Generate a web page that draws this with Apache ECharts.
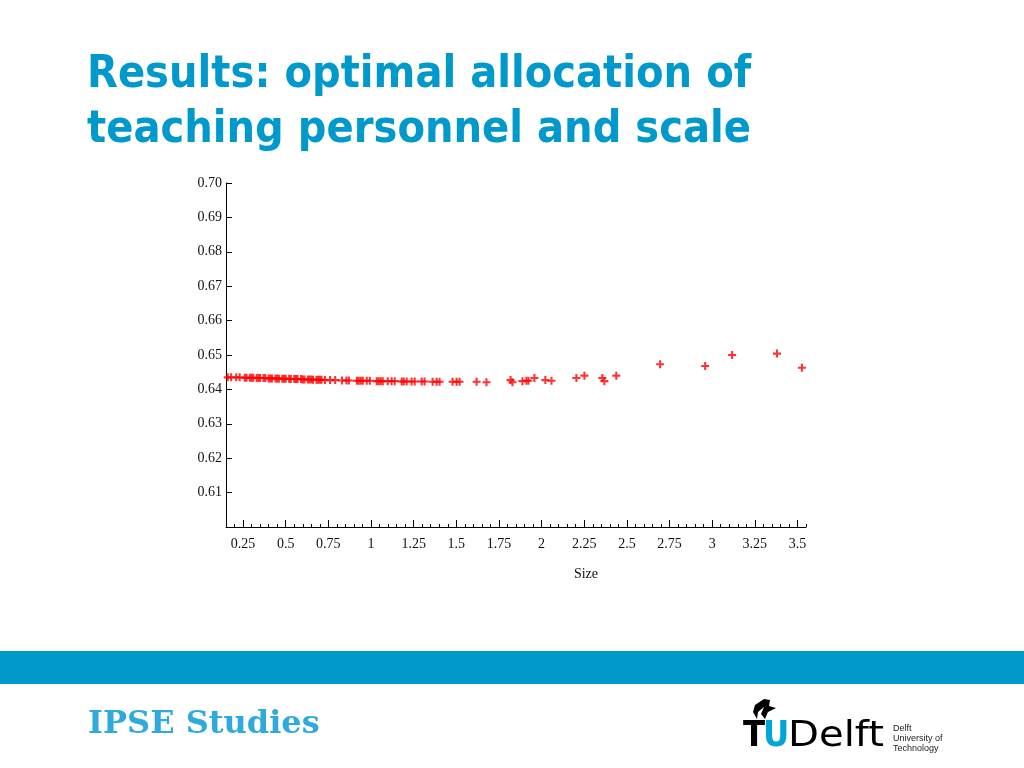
<!DOCTYPE html>
<html>
<head>
<meta charset="utf-8">
<title>Results: optimal allocation of teaching personnel and scale</title>
<script src="https://cdn.jsdelivr.net/npm/echarts@6/dist/echarts.min.js"></script>
<style>
  html, body { margin: 0; padding: 0; background: #fff; }
  #chart { width: 1024px; height: 768px; }
</style>
</head>
<body>
<div id="chart"></div>
<script>
// size of the school (x) and optimal share of teaching personnel (y)
const sizeValues = [
  0.16, 0.18, 0.21, 0.23, 0.26, 0.27, 0.29, 0.30, 0.31, 0.33,
  0.34, 0.35, 0.37, 0.38, 0.40, 0.41, 0.42, 0.44, 0.45, 0.46,
  0.48, 0.49, 0.50, 0.52, 0.53, 0.55, 0.56, 0.57, 0.59, 0.60,
  0.61, 0.63, 0.64, 0.65, 0.66, 0.68, 0.69, 0.70, 0.71, 0.73,
  0.76, 0.79, 0.83, 0.856, 0.87, 0.917, 0.928, 0.94, 0.952, 0.975,
  0.993, 1.034, 1.045, 1.057, 1.069, 1.098, 1.121, 1.139, 1.18, 1.192,
  1.209, 1.238, 1.256, 1.297, 1.314, 1.361, 1.385, 1.402, 1.478, 1.502,
  1.519, 1.619, 1.677, 1.818, 1.829, 1.888, 1.911, 1.923, 1.958, 2.022,
  2.058, 2.204, 2.251, 2.356, 2.368, 2.438, 2.695, 2.959, 3.117, 3.38,
  3.526
]
const shareValues = [
  0.6435, 0.6435, 0.6435, 0.6435, 0.6434, 0.6434, 0.6434, 0.6434, 0.6434, 0.6433,
  0.6433, 0.6433, 0.6433, 0.6433, 0.6432, 0.6432, 0.6432, 0.6432, 0.6432, 0.6431,
  0.6431, 0.6431, 0.6431, 0.6431, 0.6430, 0.6430, 0.6430, 0.6430, 0.6430, 0.6429,
  0.6429, 0.6429, 0.6429, 0.6429, 0.6428, 0.6428, 0.6428, 0.6428, 0.6428, 0.6427,
  0.6427, 0.6427, 0.6426, 0.6426, 0.6426, 0.6425, 0.6425, 0.6425, 0.6425, 0.6425,
  0.6425, 0.6424, 0.6424, 0.6424, 0.6424, 0.6424, 0.6424, 0.6424, 0.6423, 0.6423,
  0.6423, 0.6423, 0.6423, 0.6423, 0.6423, 0.6422, 0.6422, 0.6422, 0.6422, 0.6422,
  0.6422, 0.6422, 0.6421, 0.6427, 0.6421, 0.6424, 0.6425, 0.6425, 0.6433, 0.6427,
  0.6425, 0.6433, 0.6440, 0.6433, 0.6424, 0.6440, 0.6473, 0.6468, 0.6500, 0.6504,
  0.6463
]

// axis ticks
const sizeTicks = [0.25, 0.5, 0.75, 1, 1.25, 1.5, 1.75, 2, 2.25, 2.5, 2.75, 3, 3.25, 3.5]
const sizeMinorTicks = [
  0.2, 0.3, 0.35, 0.4, 0.45, 0.55, 0.6, 0.65, 0.7, 0.8, 0.85, 0.9, 0.95,
  1.05, 1.1, 1.15, 1.2, 1.3, 1.35, 1.4, 1.45, 1.55, 1.6, 1.65, 1.7, 1.8, 1.85, 1.9, 1.95,
  2.05, 2.1, 2.15, 2.2, 2.3, 2.35, 2.4, 2.45, 2.55, 2.6, 2.65, 2.7, 2.8, 2.85, 2.9, 2.95,
  3.05, 3.1, 3.15, 3.2, 3.3, 3.35, 3.4, 3.45, 3.55
]
const shareTicks = [0.61, 0.62, 0.63, 0.64, 0.65, 0.66, 0.67, 0.68, 0.69, 0.70]

const points = sizeValues.map((x, i) => [x, shareValues[i]])

const blue = '#0099cc'
const serif = "'Liberation Serif', 'DejaVu Serif', serif"
const plus = 'path://M3.7,0 H6.3 V3.7 H10 V6.3 H6.3 V10 H3.7 V6.3 H0 V3.7 H3.7 Z'
const titleFont = "bold 44.6px 'DejaVu Sans Condensed', 'DejaVu Sans', sans-serif"
const logoFont = "'Liberation Sans Narrow', 'DejaVu Sans Condensed', sans-serif"

const chart = echarts.init(document.getElementById('chart'))

const option = {
  backgroundColor: '#ffffff',
  animation: false,
  grid: { left: 226, top: 183, width: 580, height: 344, containLabel: false },
  xAxis: [
    {
      type: 'value',
      min: 0.15,
      max: 3.55,
      name: 'Size',
      nameLocation: 'middle',
      nameGap: 40,
      nameTextStyle: { fontFamily: serif, fontSize: 14, color: '#111', padding: [0, 0, 0, 140] },
      axisLine: { show: true, lineStyle: { color: '#000', width: 1 } },
      axisTick: { show: true, inside: true, length: 3, customValues: sizeMinorTicks, lineStyle: { color: '#000' } },
      axisLabel: { customValues: sizeTicks, fontFamily: serif, fontSize: 14, color: '#111', margin: 10 },
      splitLine: { show: false }
    },
    {
      type: 'value',
      min: 0.15,
      max: 3.55,
      position: 'bottom',
      axisLine: { show: false },
      axisTick: { show: true, inside: true, length: 7, customValues: sizeTicks, lineStyle: { color: '#000' } },
      axisLabel: { show: false },
      splitLine: { show: false }
    }
  ],
  yAxis: {
    type: 'value',
    min: 0.6,
    max: 0.7,
    axisLine: { show: true, lineStyle: { color: '#000', width: 1 } },
    axisTick: { show: true, inside: true, length: 6, customValues: shareTicks, lineStyle: { color: '#000' } },
    axisLabel: {
      customValues: shareTicks,
      formatter: (v) => v.toFixed(2),
      fontFamily: serif,
      fontSize: 14,
      color: '#111',
      margin: 4
    },
    splitLine: { show: false }
  },
  series: [
    {
      type: 'scatter',
      xAxisIndex: 0,
      symbol: plus,
      symbolSize: 8,
      itemStyle: { color: '#ff0000' },
      data: points
    }
  ],
  graphic: [
    // slide title
    { type: 'text', x: 87, y: 53, z: 10, style: { text: 'Results: optimal allocation of', font: titleFont, fill: blue } },
    { type: 'text', x: 87, y: 108, z: 10, style: { text: 'teaching personnel and scale', font: titleFont, fill: blue } },
    // blue band of the slide template
    { type: 'rect', shape: { x: 0, y: 651, width: 1024, height: 33 }, style: { fill: blue } },
    { type: 'text', x: 88, y: 709, style: { text: 'IPSE Studies', font: "bold 32px 'DejaVu Serif', serif", fill: '#2eaadc' } },
    // TU Delft logo
    {
      type: 'polygon',
      shape: { points: [[764, 699], [755, 705], [753, 712], [757, 719], [758, 712], [764, 707], [761, 714], [765, 719], [768, 712], [776, 708], [769, 706], [770, 700]] },
      style: { fill: '#000' }
    },
    { type: 'text', x: 743, y: 719, style: { text: 'T', font: 'bold 36px ' + logoFont, fill: '#000' } },
    { type: 'text', x: 763, y: 719, style: { text: 'U', font: 'bold 36px ' + logoFont, fill: '#00a6d6' } },
    { type: 'text', x: 788, y: 719, scaleX: 1.24, style: { text: 'Delft', font: '36px ' + logoFont, fill: '#000' } },
    { type: 'text', x: 893, y: 724, style: { text: 'Delft\nUniversity of\nTechnology', font: "9px 'Liberation Sans', sans-serif", lineHeight: 10, fill: '#222' } }
  ]
}

chart.setOption(option)
</script>
</body>
</html>
